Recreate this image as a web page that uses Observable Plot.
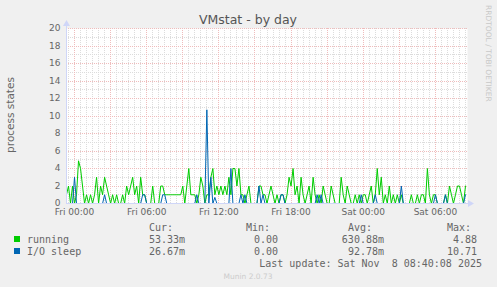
<!DOCTYPE html>
<html><head><meta charset="utf-8">
<script src="https://cdn.jsdelivr.net/npm/d3@7"></script>
<script src="https://cdn.jsdelivr.net/npm/@observablehq/plot@0.6"></script>
<style>
html,body{margin:0;padding:0;background:#f0f0f0;}
#chart{position:relative;width:497px;height:287px;overflow:hidden;}
#chart svg{display:block;}
</style></head><body><div id="chart"></div>
<script>
// ---- data (10-minute samples starting Thu 23:20 UTC) ----
const startTime = Date.UTC(2025, 10, 6, 23, 20);
const stepMinutes = 10;
const running = [
  1,2,0,2,0,1,4.88,4,2,0,1,0,1,0,1,3,0,2,1,3,
  2,1,0,1,0,1,0,0,1,0,2,1,2,3,1,2,0,3,1,1,
  0,0,0,2,0,0,0,2,2,1,1,1,1,1,1,1,1,1,2,0,
  2,4,1,1,1,0,1,3,2,0,1,1,3,4,1,2,1,2,1,2,
  1,3,1,4,4,2,4,1,1,0,1,2,0,0,0,0,2,2,1,1,
  0,1,2,1,0,1,0,1,1,0,1,3,2,4,1,2,0,3,1,0,
  1,2,0,3,1,0,1,0,2,1,0,0,2,1,0,0,0,3,1,0,
  2,1,0,0,1,0,1,0,1,1,0,1,2,0,1,4,1,3,0,1,
  0,2,0,1,0,1,0,1,0,0,0,0,1,0,0,1,0,1,1,0,
  4,1,0,1,1,0,0,0,0,1,0,2,1,0,1,2,2,1,0,2
];
const ioSleep = [
  0,0,0,0,3,0,0,0,0,0,0,0,0,0,0,0,0,0,0,1,
  0,0,0,0,0,0,0,0,0,0,0,0,0,0,0,0,0,0,1,1,
  0,0,0,0,0,0,0,0,1,1,0,0,0,0,0,0,0,0,0,0,
  0,0,0,0,0,1,0,0,0,0,10.71,0,3,0,0.7,0,0,0,0,0,
  0,0,4,0,0,0,0,1,0,1,0,0,0,0,0,0,2,0,1,0,
  0,0,0,0,0,0,0,1,1,0,0,0,0,0,0,0,0,0,0,0,
  0,0,0,0,0,1,0,1,0,0,0,0,0,0,0,0,0,0,0,0,
  0,0,0,0,0,0,0,1,0,0,0,0,0,0,1,0,0,0,0,0,
  0,0,0,0,0,0,0,2,0,0,0,0,0,0,0,0,0,0,0,0,
  0,0,0,0,1,0,0,0,0,1,0,0,0,0,0,0,0,0,0,1
];
const yTicks = [0,2,4,6,8,10,12,14,16,18,20];
const xTickLabels = ["Fri 00:00","Fri 06:00","Fri 12:00","Fri 18:00","Sat 00:00","Sat 06:00"];
const xTickTimes = [
  Date.UTC(2025,10,7,0), Date.UTC(2025,10,7,6), Date.UTC(2025,10,7,12),
  Date.UTC(2025,10,7,18), Date.UTC(2025,10,8,0), Date.UTC(2025,10,8,6)
];
const seriesNames = ["running","I/O sleep"];
const seriesColors = ["#00cc00","#0066b3"];
const curValues = ["53.33m","26.67m"];
const minValues = ["0.00","0.00"];
const avgValues = ["630.88m","92.78m"];
const maxValues = ["4.88","10.71"];
const titleText = "VMstat - by day";
const yLabel = "process states";
const lastUpdate = "Last update: Sat Nov  8 08:40:08 2025";
const credit = "RRDTOOL / TOBI OETIKER";
const version = "Munin 2.0.73";

// ---- build ----
const rows = running.map((v, i) => ({
  time: new Date(startTime + i * stepMinutes * 60000),
  running: v,
  io: ioSleep[i]
}));
const xStart = new Date(startTime);
const xEnd = new Date(startTime + 400 * 5 * 60000);
const minorX = d3.utcMinute.every(30).range(xStart, xEnd);
const majorX = d3.utcHour.every(3).range(xStart, xEnd);
const labelByTime = new Map(xTickTimes.map((t, i) => [t, xTickLabels[i]]));
const gridGray = "#dcdcdc", gridRed = "#efbcbc", axisColor = "#cfd6f8";

const chart = Plot.plot({
  width: 497, height: 287,
  marginLeft: 66, marginRight: 30, marginTop: 28, marginBottom: 84,
  style: {background: "transparent", fontFamily: "DejaVu Sans", fontSize: "9px", color: "#666"},
  x: {type: "utc", domain: [xStart, xEnd]},
  y: {domain: [0, 20]},
  marks: [
    Plot.frame({fill: "white", stroke: null}),
    Plot.ruleY(d3.range(1, 20, 2), {stroke: gridGray, strokeDasharray: "1,1", shapeRendering: "crispEdges"}),
    Plot.ruleX(minorX, {stroke: gridGray, strokeDasharray: "1,1", shapeRendering: "crispEdges"}),
    Plot.ruleY(yTicks.filter(d => d > 0), {stroke: gridRed, strokeDasharray: "1,1", shapeRendering: "crispEdges"}),
    Plot.ruleX(majorX, {stroke: gridRed, strokeDasharray: "1,1", shapeRendering: "crispEdges"}),
    Plot.lineY(rows, {x: "time", y: "running", stroke: seriesColors[0], strokeWidth: 1}),
    Plot.lineY(rows, {x: "time", y: "io", stroke: seriesColors[1], strokeWidth: 1}),
    Plot.axisY({ticks: yTicks, tickSize: 0, tickPadding: 6, fontSize: 9}),
    Plot.axisX({ticks: xTickTimes.map(t => new Date(t)), tickSize: 0, tickPadding: 5,
      tickFormat: d => labelByTime.get(+d), fontSize: 9})
  ]
});
document.getElementById("chart").appendChild(chart);

const svg = d3.select(chart);
// axis lines + arrows
svg.append("line").attr("x1", 66).attr("x2", 470).attr("y1", 203.5).attr("y2", 203.5)
  .attr("stroke", axisColor);
svg.append("line").attr("x1", 66.5).attr("x2", 66.5).attr("y1", 204).attr("y2", 24)
  .attr("stroke", axisColor);
svg.append("path").attr("d", "M63,26L66.5,20L70,26Z").attr("fill", axisColor);
svg.append("path").attr("d", "M468,200L474,203.5L468,207Z").attr("fill", axisColor);

const t = svg.append("g").attr("font-family", "DejaVu Sans").attr("text-anchor", "middle");
// title
t.append("text").attr("x", 248).attr("y", 24)
  .attr("font-size", 12.5).attr("fill", "#555").text(titleText);
// y label
t.append("text").attr("transform", "translate(14,115) rotate(-90)")
  .attr("font-size", 10.5).attr("fill", "#666").text(yLabel);
// credit
t.append("text").attr("transform", "translate(486,5) rotate(90)").attr("text-anchor", "start")
  .attr("font-size", 7.5).attr("fill", "#c8c8c8").text(credit);
// version
t.append("text").attr("x", 248).attr("y", 279)
  .attr("font-size", 7.5).attr("fill", "#cccccc").text(version);

// legend
const lg = svg.append("g").attr("font-family", "DejaVu Sans Mono").attr("font-size", 10)
  .attr("fill", "#666").attr("text-anchor", "start");
lg.append("text").attr("x", 149).attr("y", 230.5).text("Cur:");
lg.append("text").attr("x", 246).attr("y", 230.5).text("Min:");
lg.append("text").attr("x", 348).attr("y", 230.5).text("Avg:");
lg.append("text").attr("x", 447).attr("y", 230.5).text("Max:");
seriesNames.forEach((name, i) => {
  const y = 242.5 + i * 12;
  lg.append("rect").attr("x", 14).attr("y", y - 6.5).attr("width", 6).attr("height", 6)
    .attr("fill", seriesColors[i]);
  lg.append("text").attr("x", 27).attr("y", y).text(name);
  lg.append("text").attr("x", 185).attr("y", y).attr("text-anchor", "end").text(curValues[i]);
  lg.append("text").attr("x", 278).attr("y", y).attr("text-anchor", "end").text(minValues[i]);
  lg.append("text").attr("x", 384).attr("y", y).attr("text-anchor", "end").text(avgValues[i]);
  lg.append("text").attr("x", 477).attr("y", y).attr("text-anchor", "end").text(maxValues[i]);
});
lg.append("text").attr("x", 482).attr("y", 266.5).attr("text-anchor", "end")
  .style("white-space", "pre").text(lastUpdate);
</script></body></html>
